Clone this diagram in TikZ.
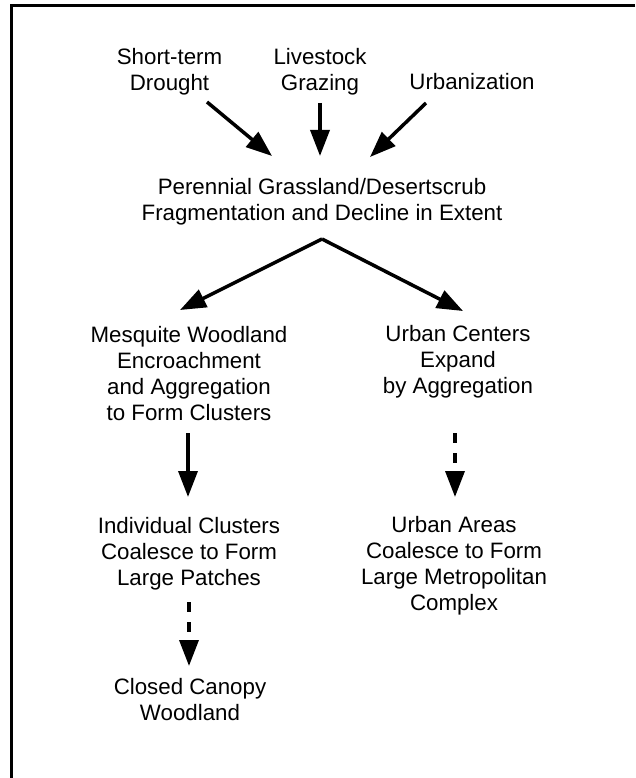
\documentclass[tikz,border=0pt]{standalone}
\usepackage{fontspec}
\setmainfont{Liberation Sans}
\usetikzlibrary{arrows.meta}
\begin{document}
\begin{tikzpicture}[x=1pt,y=-1pt,
  lbl/.style={align=center,inner sep=0pt,font=\fontsize{22.3}{26}\selectfont},
  arr/.style={line width=3.5pt,-{Triangle[length=26pt,width=19pt]}},
  darr/.style={arr,dash pattern=on 10pt off 10pt}]
\useasboundingbox (0,0) rectangle (635,778);
\draw[line width=3pt] (635,5.5) -- (11,5.5) -- (11,778);

\node[lbl] (short) at (169.5,72) {Short-term\\Drought};
\node[lbl] (live) at (320,72) {Livestock\\Grazing};
\node[lbl] (urban) at (472,82) {Urbanization};
\node[lbl] (pgd) at (322,202) {Perennial Grassland/Desertscrub\\Fragmentation and Decline in Extent};
\node[lbl] (mesq) at (189,373.5) {Mesquite Woodland\\Encroachment\\and Aggregation\\to Form Clusters};
\node[lbl] (ucent) at (458,361.5) {Urban Centers\\Expand\\by Aggregation};
\node[lbl] (indiv) at (189,553.5) {Individual Clusters\\Coalesce to Form\\Large Patches};
\node[lbl] (uareas) at (454,565.5) {Urban Areas\\Coalesce to Form\\Large Metropolitan\\Complex};
\node[lbl] (closed) at (190,700) {Closed Canopy\\Woodland};

\draw[arr] ([shift={(37.5,30)}]short.center) -- ([shift={(-50,-46)}]pgd.center);
\draw[arr] ([shift={(0,31)}]live.center) -- ([shift={(-2,-46)}]pgd.center);
\draw[arr] ([shift={(-46,21)}]urban.center) -- ([shift={(48,-45)}]pgd.center);
\draw[arr] ([shift={(0,37)}]pgd.center) -- ([shift={(-9,-63.5)}]mesq.center);
\draw[arr] ([shift={(0,37)}]pgd.center) -- ([shift={(5,-50.5)}]ucent.center);
\draw[arr] ([shift={(-1,59.5)}]mesq.center) -- ([shift={(-1,-56.5)}]indiv.center);
\draw[darr] ([shift={(-3,71.5)}]ucent.center) -- ([shift={(1,-68.5)}]uareas.center);
\draw[darr] ([shift={(0,48.5)}]indiv.center) -- ([shift={(-1,-34)}]closed.center);
\end{tikzpicture}
\end{document}
